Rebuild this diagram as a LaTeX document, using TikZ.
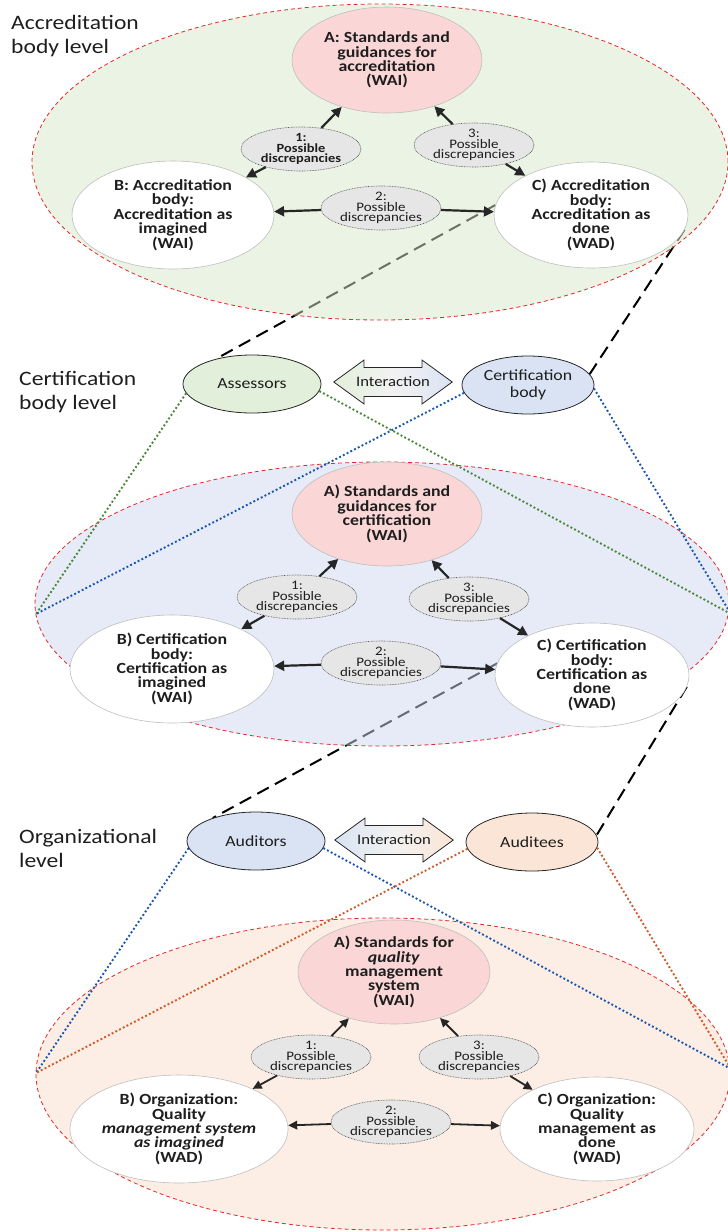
\documentclass[tikz,border=0pt]{standalone}
\usepackage{fontspec}
\setmainfont{Carlito}[FakeStretch=1.15]
\usetikzlibrary{shapes.geometric,shapes.arrows,arrows.meta}
\pgfdeclarelayer{under}
\pgfsetlayers{under,main}

\definecolor{lvred}{RGB}{228,40,40}
\definecolor{lvgreen}{RGB}{215,233,201}
\definecolor{lvblue}{RGB}{205,215,239}
\definecolor{lvpeach}{RGB}{249,221,201}
\definecolor{stdpink}{RGB}{251,214,214}
\definecolor{rimgray}{RGB}{190,190,190}
\definecolor{discgray}{RGB}{230,230,230}
\definecolor{actgreen}{RGB}{226,239,218}
\definecolor{actblue}{RGB}{218,227,243}
\definecolor{actpeach}{RGB}{251,229,214}
\definecolor{midgray}{RGB}{242,242,242}
\definecolor{dotgreen}{RGB}{70,135,55}
\definecolor{dotblue}{RGB}{25,85,175}
\definecolor{dotorange}{RGB}{205,90,40}
\definecolor{ink}{RGB}{30,30,30}

\begin{document}
\begin{tikzpicture}[x=1pt,y=-1pt,
  level/.style={ellipse, draw=lvred, line width=0.8pt, dash pattern=on 4pt off 3pt,
    fill opacity=0.5, inner sep=0pt},
  stdnode/.style={ellipse, draw=rimgray, line width=0.6pt, fill=white, inner sep=0pt,
    align=center, text=ink, font=\bfseries\fontsize{15.5}{14.4}\selectfont},
  disc/.style={ellipse, fill=discgray, draw=black!65, line width=0.6pt,
    dash pattern=on 0.8pt off 0.8pt, minimum width=120pt, minimum height=44pt,
    inner xsep=0pt, inner ysep=-4pt, align=center, text=ink,
    font=\fontsize{13}{10.8}\selectfont},
  actor/.style={ellipse, draw=black!85, line width=0.8pt, minimum height=58pt,
    inner sep=0pt, align=center, text=ink, font=\fontsize{15.5}{16.7}\selectfont},
  interact/.style={double arrow, draw=black!85, line width=0.8pt,
    double arrow head extend=7.5pt, double arrow tip angle=72,
    minimum height=117pt, inner xsep=2pt, inner ysep=9pt, text=ink,
    font=\fontsize{14.5}{16}\selectfont},
  levlabel/.style={anchor=north west, inner sep=0pt, align=left, text=ink,
    font=\fontsize{20.5}{23.7}\selectfont},
  link/.style={-{Triangle[length=10pt,width=10pt]}, line width=2.2pt, black!85},
  thinlink/.style={-{Triangle[length=9pt,width=8.5pt]}, line width=1.8pt, black!85},
  longdash/.style={line width=2pt, black, dash pattern=on 13pt off 7pt},
  dotline/.style={line width=1.9pt, dash pattern=on 1.9pt off 2.3pt}]

\useasboundingbox (0,0) rectangle (728,1232);
\clip (0,0) rectangle (728,1232);

% ---------- accreditation body level ----------
\node[level, fill=lvgreen, minimum width=696pt, minimum height=316pt] (lev1) at (380,162) {};
\node[levlabel] (lab1) at (11,15) {Accreditation\\body level};
\node[stdnode, fill=stdpink, minimum width=190pt, minimum height=106pt] (A1) at (387,60)
  {A: Standards and\\guidances for\\accreditation\\(WAI)};
\node[stdnode, minimum width=202pt, minimum height=108pt] (B1) at (173,215)
  {B: Accreditation\\body:\\Accreditation as\\imagined\\(WAI)};
\node[stdnode, minimum width=194pt, minimum height=106pt] (C1) at (591,215)
  {C) Accreditation\\body:\\Accreditation as\\done\\(WAD)};
\node[disc, font=\bfseries\fontsize{12.5}{10.8}\selectfont] (D11) at (301,149) {1:\\Possible\\discrepancies};
\node[disc] (D12) at (381,208) {2:\\Possible\\discrepancies};
\node[disc] (D13) at (474,145) {3:\\Possible\\discrepancies};
\draw[link] (D11) -- (A1);
\draw[link] (D11) -- (B1);
\draw[link] (D12) -- (B1);
\draw[link] (D12) -- (C1);
\draw[link] (D13) -- (A1);
\draw[link] (D13) -- (C1);

% ---------- certification body level ----------
\node[levlabel] (lab2) at (19,371) {Certification\\body level};
\node[actor, fill=actgreen, minimum width=138pt] (ass) at (252,384) {Assessors};
\node[actor, fill=actblue, minimum width=132pt] (cert) at (528,385) {Certification\\body};
\node[interact, left color=actgreen, right color=actblue, middle color=midgray] (int1) at (393,382) {Interaction};

\node[level, fill=lvblue, minimum width=694pt, minimum height=284pt] (lev2) at (382,604) {};
\node[stdnode, fill=stdpink, minimum width=190pt, minimum height=104pt] (A2) at (387,514)
  {A) Standards and\\guidances for\\certification\\(WAI)};
\node[stdnode, minimum width=204pt, minimum height=108pt] (B2) at (172,669)
  {B) Certification\\body:\\Certification as\\imagined\\(WAI)};
\node[stdnode, minimum width=194pt, minimum height=104pt] (C2) at (592,675)
  {C) Certification\\body:\\Certification as\\done\\(WAD)};
\node[disc] (D21) at (297,597) {1:\\Possible\\discrepancies};
\node[disc] (D22) at (381,663) {2:\\Possible\\discrepancies};
\node[disc] (D23) at (469,599) {3:\\Possible\\discrepancies};
\draw[link] (D21) -- (A2);
\draw[link] (D21) -- (B2);
\draw[link] (D22) -- (B2);
\draw[link] (D22) -- (C2);
\draw[link] (D23) -- (A2);
\draw[link] (D23) -- (C2);

% ---------- organizational level ----------
\node[levlabel] (lab3) at (19,829) {Organizational\\level};
\node[actor, fill=actblue, minimum width=138pt] (aud) at (256,841) {Auditors};
\node[actor, fill=actpeach, minimum width=132pt] (adt) at (532,842) {Auditees};
\node[interact, left color=actblue, right color=actpeach, middle color=midgray] (int2) at (394,840) {Interaction};

\node[level, fill=lvpeach, minimum width=694pt, minimum height=312pt] (lev3) at (383,1074) {};
\node[stdnode, fill=stdpink, minimum width=192pt, minimum height=104pt] (A3) at (394,972)
  {A) Standards for\\\textit{quality}\\management\\system\\(WAI)};
\node[stdnode, minimum width=202pt, minimum height=108pt] (B3) at (179,1129)
  {B) Organization:\\Quality\\\textit{management system}\\\textit{as imagined}\\(WAD)};
\node[stdnode, minimum width=194pt, minimum height=104pt] (C3) at (597,1129)
  {C) Organization:\\Quality\\management as\\done\\(WAD)};
\node[disc] (D31) at (311,1057) {1:\\Possible\\discrepancies};
\node[disc] (D32) at (391,1122) {2:\\Possible\\discrepancies};
\node[disc] (D33) at (479,1057) {3:\\Possible\\discrepancies};
\draw[thinlink] (D31) -- (A3);
\draw[thinlink] (D31) -- (B3);
\draw[thinlink] (D32) -- (B3);
\draw[thinlink] (D32) -- (C3);
\draw[thinlink] (D33) -- (A3);
\draw[thinlink] (D33) -- (C3);

% meeting points of the projection lines on the level rims
\coordinate (L2l) at (36,614);
\coordinate (L2r) at (731,614);
\coordinate (L3l) at (36,1073);
\coordinate (L3r) at (731,1069);

% projection lines: from each level's practice down to the actors below
\begin{pgfonlayer}{under}
\draw[longdash] (C1.174) -- (ass.145);
\draw[longdash] (C1.-9) -- (cert.10);
\draw[longdash] (C2.173) -- (aud.152);
\draw[longdash] (C2.-7) -- (adt.6);
\end{pgfonlayer}

% projection of the actors onto the level below
\draw[dotline, dotgreen] (ass.188) -- (L2l);
\draw[dotline, dotgreen] (ass.-6) -- (L2r);
\draw[dotline, dotblue] (cert.187) -- (L2l);
\draw[dotline, dotblue] (cert.-3) -- (L2r);
\draw[dotline, dotblue] (aud.186) -- (L3l);
\draw[dotline, dotblue] (aud.-6) -- (L3r);
\draw[dotline, dotorange] (adt.186) -- (L3l);
\draw[dotline, dotorange] (adt.-5) -- (L3r);
\end{tikzpicture}
\end{document}
